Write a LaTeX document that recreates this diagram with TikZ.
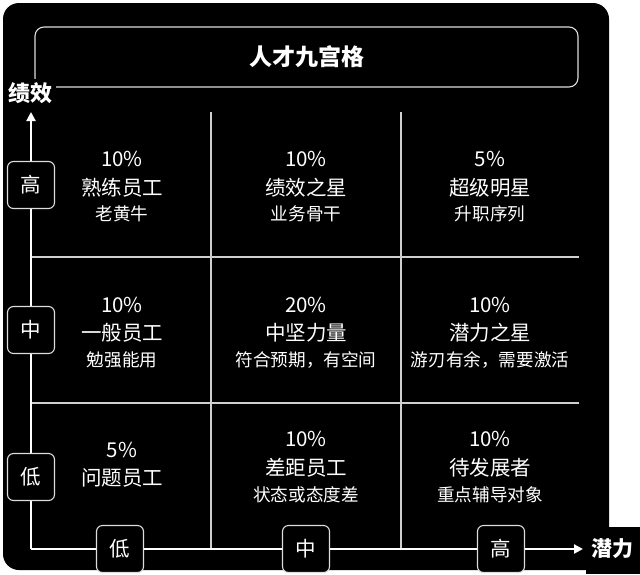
\documentclass[tikz,border=0pt]{standalone}
\usepackage{fontspec}
\setmainfont{Noto Sans CJK SC}
\usetikzlibrary{arrows.meta}
\definecolor{gridc}{HTML}{CFCFCF}
\definecolor{boxc}{HTML}{DDDDDD}
\begin{document}
\begin{tikzpicture}[x=1pt,y=-1pt,
  axis/.style={draw=white,line width=2.2pt},
  gridline/.style={draw=gridc,line width=1.1pt},
  lbl/.style={draw=boxc,fill=black,rounded corners=6pt,line width=1.1pt,minimum width=47pt,minimum height=47pt,inner sep=0pt,text=white,font=\fontsize{20.5}{20.5}\selectfont},
  pct/.style={text=white,font=\fontsize{20.5}{21}\selectfont,inner sep=0pt},
  ttl/.style={text=white,font=\fontsize{20.5}{21}\selectfont,inner sep=0pt},
  sub/.style={text=white,font=\fontsize{17.6}{18}\selectfont,inner sep=0pt},
  axname/.style={text=white,fill=black,inner sep=3pt,font=\bfseries\fontsize{22}{22}\selectfont}]
\useasboundingbox (0,0) rectangle (640,574);
\fill[white] (0,0) rectangle (640,574);
\fill[black,rounded corners=16pt] (3,3) rectangle (609,570);
\fill[black] (586,527) rectangle (640,574);
% grid
\coordinate (g1t) at (211,112); \coordinate (g1b) at (211,549);
\coordinate (g2t) at (401,112); \coordinate (g2b) at (401,549);
\coordinate (h1l) at (31,257); \coordinate (h1r) at (579,257);
\coordinate (h2l) at (31,403); \coordinate (h2r) at (579,403);
\draw[gridline] (g1t) -- (g1b);
\draw[gridline] (g2t) -- (g2b);
\draw[gridline] (h1l) -- (h1r);
\draw[gridline] (h2l) -- (h2r);
% axes
\coordinate (O) at (31,549);
\coordinate (ytip) at (31,112);
\coordinate (xtip) at (583,549);
\draw[axis,-{Triangle[width=9pt,length=9pt]}] (O) -- (ytip);
\draw[axis,-{Triangle[width=9pt,length=9pt]}] (O) -- (xtip);
% title
\node[draw=boxc,line width=1.1pt,rounded corners=9pt,minimum width=543pt,minimum height=60pt,inner sep=0pt,text=white,font=\bfseries\fontsize{23}{23}\selectfont] (title) at (306.5,57) {人才九宫格};
\node[axname] (yname) at (31,93) {绩效};
\node[axname,font=\bfseries\fontsize{21}{21}\selectfont,inner sep=2pt] (xname) at (612,549) {潜力};
% axis labels
\node[lbl] (yh) at (31,185) {高};
\node[lbl] (ym) at (31,330) {中};
\node[lbl] (yl) at (31,477) {低};
\node[lbl] (xl) at (120,549) {低};
\node[lbl] (xm) at (306,549) {中};
\node[lbl] (xh) at (501,549) {高};
% row 1
\node[pct] (p11) at (122,159) {10\%};
\node[ttl] (t11) at (122,188) {熟练员工};
\node[sub] (s11) at (122,214) {老黄牛};
\node[pct] (p12) at (306,159) {10\%};
\node[ttl] (t12) at (306,188) {绩效之星};
\node[sub] (s12) at (306,214) {业务骨干};
\node[pct] (p13) at (490,159) {5\%};
\node[ttl] (t13) at (490,188) {超级明星};
\node[sub] (s13) at (490,214) {升职序列};
% row 2
\node[pct] (p21) at (122,305) {10\%};
\node[ttl] (t21) at (122,333) {一般员工};
\node[sub] (s21) at (122,360) {勉强能用};
\node[pct] (p22) at (306,305) {20\%};
\node[ttl] (t22) at (306,333) {中坚力量};
\node[sub] (s22) at (306,360) {符合预期，有空间};
\node[pct] (p23) at (490,305) {10\%};
\node[ttl] (t23) at (490,333) {潜力之星};
\node[sub] (s23) at (490,360) {游刃有余，需要激活};
% row 3
\node[pct] (p31) at (122,450) {5\%};
\node[ttl] (t31) at (122,478) {问题员工};
\node[pct] (p32) at (306,439) {10\%};
\node[ttl] (t32) at (306,468) {差距员工};
\node[sub] (s32) at (306,495) {状态或态度差};
\node[pct] (p33) at (490,439) {10\%};
\node[ttl] (t33) at (490,468) {待发展者};
\node[sub] (s33) at (490,495) {重点辅导对象};
\end{tikzpicture}
\end{document}
